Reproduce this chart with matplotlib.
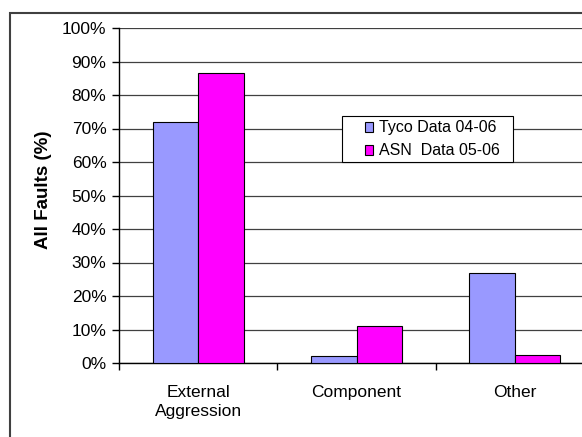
import matplotlib
matplotlib.use("Agg")
from matplotlib import pyplot as plt
from matplotlib.patches import Rectangle
from matplotlib.ticker import FixedLocator, PercentFormatter
import numpy as np

plt.rcParams["font.family"] = ["Liberation Sans", "DejaVu Sans"]

# 数据
categories = ["External\nAggression", "Component", "Other"]
tyco = [72.0, 2.1, 26.9]
asn = [86.7, 11.0, 2.4]
series_names = ["Tyco Data 04-06", "ASN  Data 05-06"]

fig = plt.figure(figsize=(5.82, 4.37), dpi=100)
ax = fig.add_axes([119 / 582, 74 / 437, 475 / 582, 335 / 437])

x = np.arange(len(categories))
w = 0.287
ax.bar(x - w / 2, tyco, w, color="#9999FF", edgecolor="black", linewidth=0.8,
       label=series_names[0], zorder=3)
ax.bar(x + w / 2, asn, w, color="#FF00FF", edgecolor="black", linewidth=0.8,
       label=series_names[1], zorder=3)

ax.set_xlim(-0.5, 2.5)
ax.set_ylim(0, 100)
ax.set_yticks(np.arange(0, 101, 10))
ax.yaxis.set_major_formatter(PercentFormatter(decimals=0))
ax.yaxis.grid(True, color="#404040", linewidth=0.9, zorder=0)
ax.set_xticks(x)
ax.set_xticklabels(categories, fontsize=12.5, linespacing=1.35)
ax.xaxis.set_minor_locator(FixedLocator([-0.5, 0.5, 1.5, 2.5]))
ax.tick_params(axis="x", which="major", length=0, pad=16)
ax.tick_params(axis="x", which="minor", length=5, width=1, direction="out")
ax.tick_params(axis="y", length=5, width=1, direction="out", labelsize=12.5, pad=4)

for s in ["top", "right"]:
    ax.spines[s].set_visible(False)
for s in ["left", "bottom"]:
    ax.spines[s].set_linewidth(1)
    ax.spines[s].set_color("black")

ax.set_ylabel("All Faults (%)", fontsize=13.5, fontweight="bold")
ax.yaxis.set_label_coords(-0.14, 0.516)

# 图例：边框单独画
ax.add_patch(Rectangle((0.4695, 0.6), 0.36, 0.1373, transform=ax.transAxes,
                       facecolor="white", edgecolor="black", linewidth=0.8,
                       zorder=4))
leg = ax.legend(loc="upper left", bbox_to_anchor=(0.517, 0.724), borderaxespad=0,
                fontsize=11.5, frameon=False, handlelength=0.55, handleheight=0.55,
                handletextpad=0.35, labelspacing=0.5, borderpad=0)
leg.set_zorder(5)

# 图表区边框
fig.patches.append(Rectangle((10 / 582, -0.2), 1.5, 1 - 13 / 437 + 0.2,
                             transform=fig.transFigure, fill=False,
                             edgecolor="#404040", linewidth=1.5))

fig.savefig("out.png", dpi=100)
